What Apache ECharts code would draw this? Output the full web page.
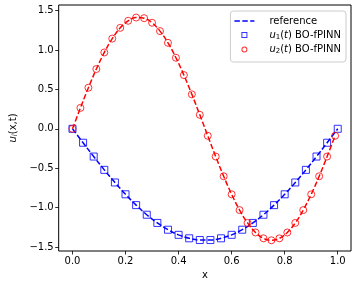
<!DOCTYPE html>
<html><head><meta charset="utf-8">
<script src="https://cdn.jsdelivr.net/npm/echarts@6/dist/echarts.min.js"></script>
<style>html,body{margin:0;padding:0;background:#fff}#c{width:358px;height:287px}</style>
</head><body><div id="c"></div>
<script>
// u1 (blue squares) sample points
const x1 = [0,0.04,0.08,0.12,0.16,0.20,0.24,0.28,0.32,0.36,0.40,0.44,0.48,0.52,0.56,0.60,0.64,0.68,0.72,0.76,0.80,0.84,0.88,0.92,0.96,1.00];
const u1 = [0,-0.177,-0.352,-0.521,-0.681,-0.831,-0.968,-1.090,-1.194,-1.280,-1.345,-1.389,-1.411,-1.411,-1.389,-1.345,-1.280,-1.194,-1.090,-0.968,-0.831,-0.681,-0.521,-0.352,-0.177,0];
// u2 (red circles) sample points
const x2 = [0,0.03,0.06,0.09,0.12,0.15,0.18,0.21,0.24,0.27,0.30,0.33,0.36,0.39,0.42,0.45,0.48,0.51,0.54,0.57,0.60,0.63,0.66,0.69,0.72,0.75,0.78,0.81,0.84,0.87,0.90,0.93,0.96,0.99];
const u2 = [0,0.265,0.521,0.758,0.968,1.144,1.280,1.370,1.411,1.403,1.345,1.239,1.090,0.901,0.681,0.437,0.177,-0.089,-0.352,-0.602,-0.831,-1.031,-1.194,-1.315,-1.389,-1.414,-1.389,-1.315,-1.194,-1.031,-0.831,-0.602,-0.352,-0.089];
const xTicks = [0,0.2,0.4,0.6,0.8,1.0];
const yTicks = [-1.5,-1.0,-0.5,0,0.5,1.0,1.5];

const pair = (xs, ys) => xs.map((v, i) => [v, ys[i]]);
const fmt = v => (v < 0 ? '\u2212' : '') + Math.abs(v).toFixed(1);
const FONT = 'DejaVu Sans';
const corners = 'M0,0h0.01v0.01h-0.01z M19.99,6.99h0.01v0.01h-0.01z ';
const dashIcon = 'path://' + corners + 'M0,2.75h5.5v1.5h-5.5z M7.9,2.75h5.5v1.5h-5.5z M15.8,2.75h4.2v1.5h-4.2z';
const squareIcon = 'path://' + corners + 'M7,0.5h6v6h-6z M8,1.5v4h4v-4z';
const circleIcon = 'path://' + corners + 'M13,3.5A3,3 0 1 1 7,3.5A3,3 0 1 1 13,3.5z M12,3.5A2,2 0 1 0 8,3.5A2,2 0 1 0 12,3.5z';
const chart = echarts.init(document.getElementById('c'), null, {renderer: 'canvas'});
chart.setOption({
  animation: false,
  textStyle: {fontFamily: FONT},
  grid: {left: 48, right: 7, top: 5, bottom: 36, show: true, borderColor: '#000', borderWidth: 1, backgroundColor: 'transparent'},
  xAxis: {
    type: 'value', min: -0.052, max: 1.05,
    name: 'x', nameLocation: 'middle', nameGap: 18,
    nameTextStyle: {fontFamily: FONT, fontSize: 10, color: '#000'},
    axisLine: {show: false, onZero: false},
    splitLine: {show: false},
    axisTick: {show: true, length: 3.5, lineStyle: {color: '#000', width: 0.8}, customValues: xTicks},
    axisLabel: {margin: 5, fontFamily: FONT, fontSize: 10, color: '#000', formatter: fmt, customValues: xTicks}
  },
  yAxis: {
    type: 'value', min: -1.55, max: 1.57,
    name: '{i|u}{s|i}{n|(x,t)}', nameLocation: 'middle', nameGap: 34, nameRotate: 90,
    nameTextStyle: {
      fontFamily: FONT, fontSize: 10, color: '#000',
      rich: {
        i: {fontFamily: FONT, fontSize: 10, fontStyle: 'italic', color: '#000'},
        s: {fontFamily: FONT, fontSize: 7, fontStyle: 'italic', color: '#000', verticalAlign: 'bottom', padding: [4, 0, 0, 0]},
        n: {fontFamily: FONT, fontSize: 10, color: '#000'}
      }
    },
    axisLine: {show: false, onZero: false},
    splitLine: {show: false},
    axisTick: {show: true, length: 3.5, lineStyle: {color: '#000', width: 0.8}, customValues: yTicks},
    axisLabel: {margin: 5, fontFamily: FONT, fontSize: 10, color: '#000', formatter: fmt, customValues: yTicks}
  },
  legend: {
    orient: 'vertical', right: 12, top: 11,
    data: [
      {name: 'reference', icon: dashIcon, itemStyle: {color: '#0000ff', borderWidth: 0}},
      {name: 'u1', icon: squareIcon, itemStyle: {color: '#0000ff', borderWidth: 0}},
      {name: 'u2', icon: circleIcon, itemStyle: {color: '#ff0000', borderWidth: 0}}
    ],
    itemWidth: 20, itemHeight: 7, itemGap: 4,
    padding: [5, 5, 7, 4],
    backgroundColor: 'rgba(255,255,255,0.8)', borderColor: '#ccc', borderWidth: 1, borderRadius: 3,
    formatter: n => n === 'reference' ? '{n|reference}' : (n === 'u1' ? '{i|u}{s|1}{n|(}{i|t}{n|) BO-fPINN}' : '{i|u}{s|2}{n|(}{i|t}{n|) BO-fPINN}'),
    textStyle: {
      fontFamily: FONT, fontSize: 10, color: '#000', padding: [0, 0, 0, 10],
      rich: {
        n: {fontFamily: FONT, fontSize: 10, color: '#000'},
        i: {fontFamily: FONT, fontSize: 10, fontStyle: 'italic', color: '#000'},
        s: {fontFamily: FONT, fontSize: 7, color: '#000', verticalAlign: 'bottom', padding: [4, 0, 0, 0]}
      }
    }
  },
  series: [
    {name: 'reference', type: 'line', data: pair(x1, u1), smooth: 0.4, showSymbol: false, symbol: 'none',
     lineStyle: {color: '#0000ff', width: 1.5, type: [5.5, 2.4]}, itemStyle: {color: '#0000ff'}, z: 2},
    {name: 'u1', type: 'scatter', data: pair(x1, u1), symbol: 'rect', symbolSize: 7,
     itemStyle: {color: 'rgba(0,0,0,0)', borderColor: '#0000ff', borderWidth: 1}, z: 3},
    {name: 'reference2', type: 'line', data: pair(x2, u2), smooth: 0.4, showSymbol: false, symbol: 'none',
     lineStyle: {color: '#ff0000', width: 1.5, type: [5.5, 2.4]}, itemStyle: {color: '#ff0000'}, z: 4},
    {name: 'u2', type: 'scatter', data: pair(x2, u2), symbol: 'circle', symbolSize: 7,
     itemStyle: {color: 'rgba(0,0,0,0)', borderColor: '#ff0000', borderWidth: 1}, z: 5}
  ]
});
</script></body></html>
